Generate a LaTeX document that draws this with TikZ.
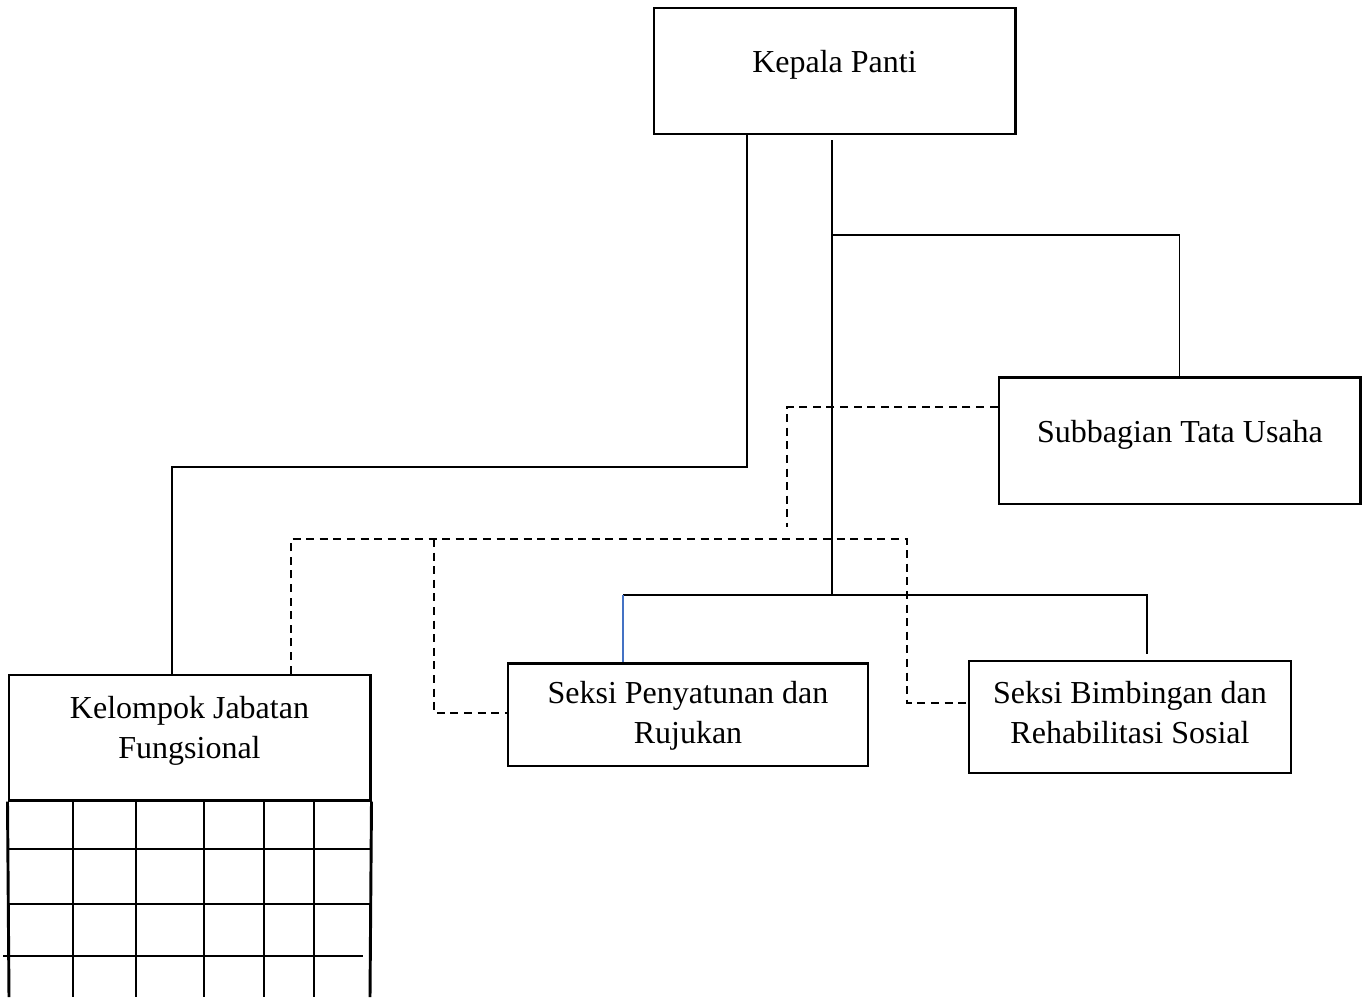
\documentclass[tikz,border=0pt]{standalone}
\usepackage{fontspec}
\setmainfont{Liberation Serif}
\usepackage{tikz}
\usetikzlibrary{positioning}
\definecolor{linkblue}{RGB}{68,114,196}

\begin{document}
\begin{tikzpicture}[x=0.375pt,y=-0.375pt,font=\fontsize{12}{15}\selectfont,
   box/.style={draw,line width=1.1pt,inner sep=0pt},
   lbl/.style={align=center,inner sep=0pt},
   conn/.style={line width=0.5pt},
   dashline/.style={line width=0.8pt,dash pattern=on 3pt off 2.1pt},
   cell/.style={line width=0.55pt}]
  \useasboundingbox (0,0) rectangle (1367,997);
  \node[box,minimum width=135.4pt,minimum height=47.25pt] (kepala) at (834.5,71) {};
  \node[lbl] (kepalaT) at (834.5,65) {Kepala Panti};
  \node[box,minimum width=135.4pt,minimum height=47.6pt] (tu) at (1179.5,440.5) {};
  \node[lbl] (tuT) at (1180,435) {Subbagian Tata Usaha};
  \node[box,minimum width=135.4pt,minimum height=46.9pt] (kjf) at (189.5,737.5) {};
  \node[lbl] (kjfT) at (189.5,731) {Kelompok Jabatan\\Fungsional};
  \node[box,minimum width=135pt,minimum height=38.6pt] (sp) at (688,714.5) {};
  \node[lbl] (spT) at (688,716) {Seksi Penyatunan dan\\Rujukan};
  \node[box,minimum width=120.75pt,minimum height=42pt] (sb) at (1130,717) {};
  \node[lbl] (sbT) at (1130,713) {Seksi Bimbingan dan\\Rehabilitasi Sosial};

  \foreach \x in {73,136,204,264,314}
    \draw[cell] (\x,800) -- (\x,997);
  \foreach \y in {849,904}
    \draw[cell] (9,\y) -- (370,\y);
  \draw[cell] (3,956) -- (363,956);
  \draw[line width=1.1pt] (kjf.south west) -- (9,997) (kjf.south east) -- (370,997);

  \coordinate (j1) at (747,467);
  \coordinate (j2) at (172,467);
  \draw[conn] (kepala.south -| j1) -- (j1) -- (j2) -- (kjf.north -| j2);
  \coordinate (t0) at (832,140);
  \coordinate (t1) at (832,235);
  \coordinate (t2) at (832,595);
  \draw[conn] (t0) -- (t2);
  \draw[conn] (t1) -| (tu.north);
  \coordinate (p1) at (623,595);
  \coordinate (b1) at (1147,595);
  \draw[conn] (p1) -- (b1) -- ([yshift=1.9pt]sb.north -| b1);
  \draw[conn,linkblue] (p1) -- (sp.north -| p1);

  \coordinate (d1) at (787,407);
  \coordinate (d2) at (787,527);
  \draw[dashline] (tu.west |- d1) -- (d1) -- (d2);
  \coordinate (k1) at (291,539);
  \coordinate (r1) at (907,539);
  \coordinate (r2) at (907,703);
  \draw[dashline] (kjf.north -| k1) -- (k1) -- (r1) -- (r2) -- (sb.west |- r2);
  \coordinate (s1) at (434,539);
  \coordinate (s2) at (434,713);
  \draw[dashline] (s1) -- (s2) -- (sp.west |- s2);
\end{tikzpicture}
\end{document}
